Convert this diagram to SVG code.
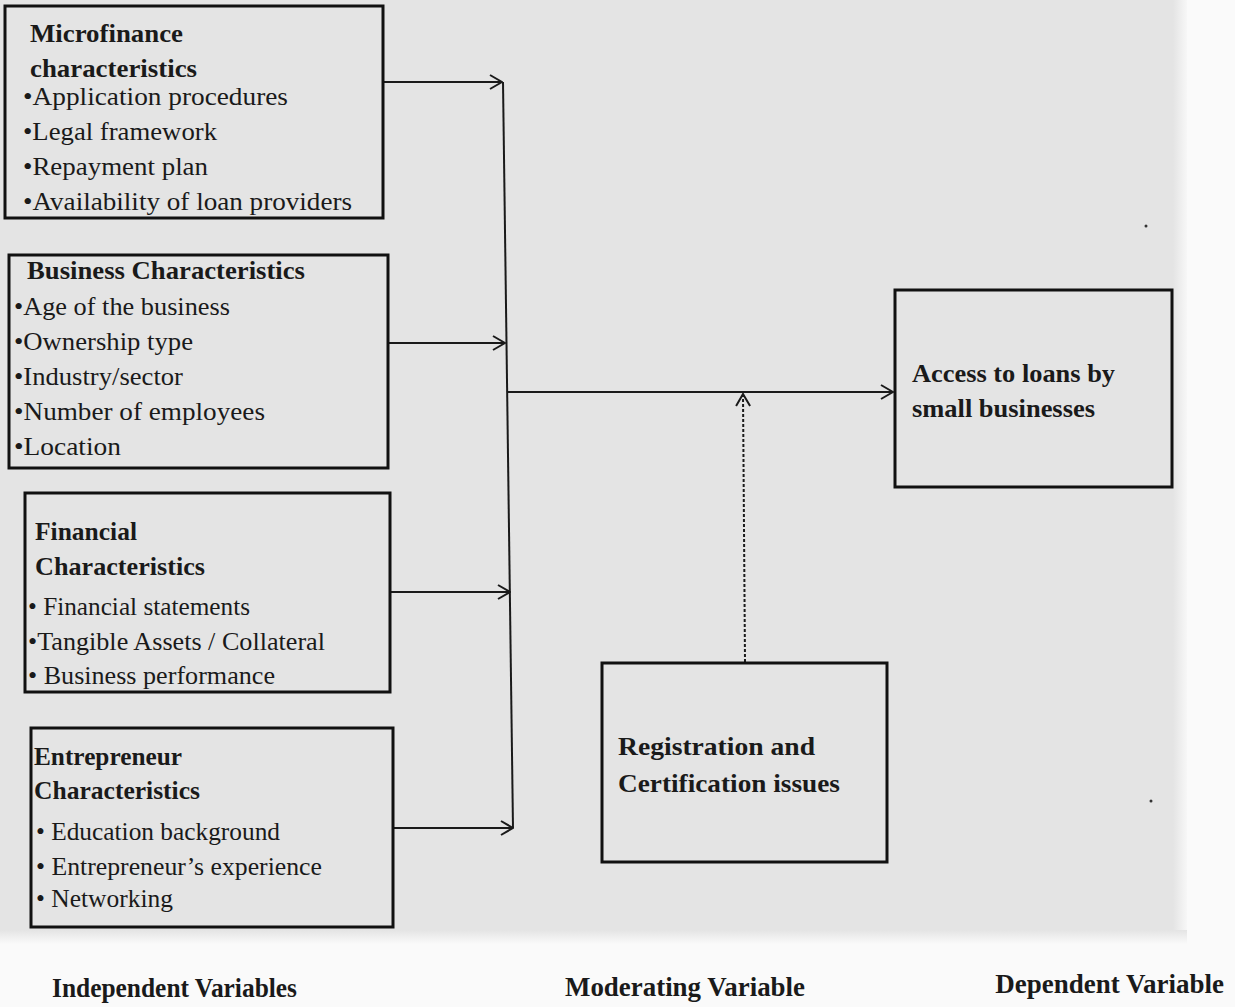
<svg xmlns="http://www.w3.org/2000/svg" width="1235" height="1007" viewBox="0 0 1235 1007">
  <defs>
    <marker id="arr" viewBox="0 0 14 16" refX="13" refY="8" markerWidth="14" markerHeight="16" markerUnits="userSpaceOnUse" orient="auto">
      <path d="M1,1 L13,8 L1,15" fill="none" stroke="#1a1a1a" stroke-width="2"/>
    </marker>
    <linearGradient id="bottomShade" x1="0" y1="0" x2="0" y2="1">
      <stop offset="0" stop-color="#e4e4e4"/>
      <stop offset="1" stop-color="#fafafa"/>
    </linearGradient>
    <linearGradient id="rightShade" x1="0" y1="0" x2="1" y2="0">
      <stop offset="0" stop-color="#e4e4e4"/>
      <stop offset="1" stop-color="#f7f7f7"/>
    </linearGradient>
    <style>
      .box { fill: none; stroke: #111; stroke-width: 3; }
      .t { font-family: "Liberation Serif", "Times New Roman", serif; font-size: 26px; fill: #1a1a1a; }
      .b { font-family: "Liberation Serif", "Times New Roman", serif; font-size: 26px; font-weight: bold; fill: #1a1a1a; }
      .f { font-family: "Liberation Serif", "Times New Roman", serif; font-size: 27px; font-weight: bold; fill: #1a1a1a; }
      .ln { fill: none; stroke: #1a1a1a; stroke-width: 2; }
      .dash { fill: none; stroke: #1a1a1a; stroke-width: 2; stroke-dasharray: 3 2; }
    </style>
  </defs>

  <!-- paper background -->
  <rect x="0" y="0" width="1235" height="1007" fill="#fafafa"/>
  <rect x="0" y="0" width="1173" height="930" fill="#e4e4e4"/>
  <rect x="1173" y="0" width="14" height="930" fill="url(#rightShade)"/>
  <rect x="0" y="930" width="1187" height="14" fill="url(#bottomShade)"/>
  <circle cx="1146" cy="226" r="1.5" fill="#333"/>
  <circle cx="1151" cy="801" r="1.5" fill="#333"/>

  <g id="connectors">
    <line class="ln" x1="383" y1="82" x2="502" y2="82" marker-end="url(#arr)"/>
    <line class="ln" x1="388" y1="343" x2="505" y2="343" marker-end="url(#arr)"/>
    <line class="ln" x1="390" y1="592" x2="510" y2="592" marker-end="url(#arr)"/>
    <line class="ln" x1="393" y1="828" x2="513" y2="828" marker-end="url(#arr)"/>
    <line class="ln" x1="503" y1="82" x2="513" y2="828"/>
    <line class="ln" x1="507" y1="392" x2="893" y2="392" marker-end="url(#arr)"/>
    <line class="dash" x1="745" y1="662" x2="743" y2="394" marker-end="url(#arr)"/>
  </g>

  <g id="microfinance">
    <rect class="box" x="5" y="6" width="378" height="212"/>
    <text class="b" x="30" y="42" textLength="153" lengthAdjust="spacingAndGlyphs">Microfinance</text>
    <text class="b" x="30" y="77" textLength="167" lengthAdjust="spacingAndGlyphs">characteristics</text>
    <text class="t" x="23" y="105" textLength="265" lengthAdjust="spacingAndGlyphs">•Application procedures</text>
    <text class="t" x="23" y="140" textLength="194" lengthAdjust="spacingAndGlyphs">•Legal framework</text>
    <text class="t" x="23" y="175" textLength="185" lengthAdjust="spacingAndGlyphs">•Repayment plan</text>
    <text class="t" x="23" y="210" textLength="329" lengthAdjust="spacingAndGlyphs">•Availability of loan providers</text>
  </g>

  <g id="business">
    <rect class="box" x="9" y="255" width="379" height="213"/>
    <text class="b" x="27" y="279" textLength="278" lengthAdjust="spacingAndGlyphs">Business Characteristics</text>
    <text class="t" x="14" y="315" textLength="216" lengthAdjust="spacingAndGlyphs">•Age of the business</text>
    <text class="t" x="14" y="350" textLength="179" lengthAdjust="spacingAndGlyphs">•Ownership type</text>
    <text class="t" x="14" y="385" textLength="169" lengthAdjust="spacingAndGlyphs">•Industry/sector</text>
    <text class="t" x="14" y="420" textLength="251" lengthAdjust="spacingAndGlyphs">•Number of employees</text>
    <text class="t" x="14" y="455" textLength="107" lengthAdjust="spacingAndGlyphs">•Location</text>
  </g>

  <g id="financial">
    <rect class="box" x="25" y="493" width="365" height="199"/>
    <text class="b" x="35" y="540" textLength="102" lengthAdjust="spacingAndGlyphs">Financial</text>
    <text class="b" x="35" y="575" textLength="170" lengthAdjust="spacingAndGlyphs">Characteristics</text>
    <text class="t" x="28" y="615" textLength="222" lengthAdjust="spacingAndGlyphs">• Financial statements</text>
    <text class="t" x="28" y="650" textLength="297" lengthAdjust="spacingAndGlyphs">•Tangible Assets / Collateral</text>
    <text class="t" x="28" y="684" textLength="247" lengthAdjust="spacingAndGlyphs">• Business performance</text>
  </g>

  <g id="entrepreneur">
    <rect class="box" x="31" y="728" width="362" height="199"/>
    <text class="b" x="34" y="765" textLength="148" lengthAdjust="spacingAndGlyphs">Entrepreneur</text>
    <text class="b" x="34" y="799" textLength="166" lengthAdjust="spacingAndGlyphs">Characteristics</text>
    <text class="t" x="36" y="840" textLength="244" lengthAdjust="spacingAndGlyphs">• Education background</text>
    <text class="t" x="36" y="875" textLength="286" lengthAdjust="spacingAndGlyphs">• Entrepreneur’s experience</text>
    <text class="t" x="36" y="907" textLength="137" lengthAdjust="spacingAndGlyphs">• Networking</text>
  </g>

  <g id="access">
    <rect class="box" x="895" y="290" width="277" height="197"/>
    <text class="b" x="912" y="382" textLength="203" lengthAdjust="spacingAndGlyphs">Access to loans by</text>
    <text class="b" x="912" y="417" textLength="183" lengthAdjust="spacingAndGlyphs">small businesses</text>
  </g>

  <g id="registration">
    <rect class="box" x="602" y="663" width="285" height="199"/>
    <text class="b" x="618" y="755" textLength="197" lengthAdjust="spacingAndGlyphs">Registration and</text>
    <text class="b" x="618" y="792" textLength="222" lengthAdjust="spacingAndGlyphs">Certification issues</text>
  </g>

  <g id="labels">
    <text class="f" x="52" y="997" textLength="245" lengthAdjust="spacingAndGlyphs">Independent Variables</text>
    <text class="f" x="565" y="996" textLength="240" lengthAdjust="spacingAndGlyphs">Moderating Variable</text>
    <text class="f" x="1224" y="993" font-size="23" text-anchor="end">Dependent Variable</text>
  </g>
</svg>
